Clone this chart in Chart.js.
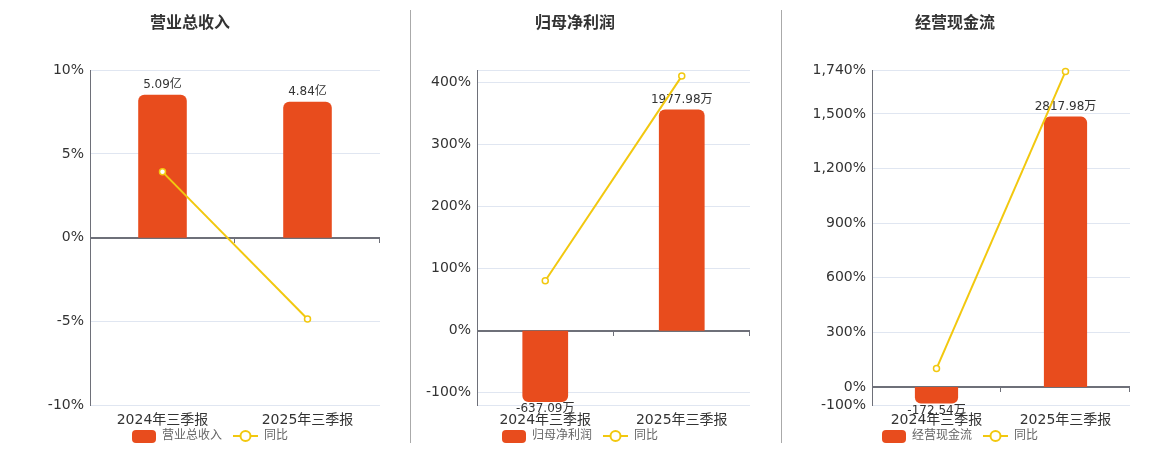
<!DOCTYPE html>
<html>
<head>
<meta charset="utf-8">
<script src="https://cdn.jsdelivr.net/npm/chart.js@4.4.0/dist/chart.umd.min.js"></script>
<style>
    html, body { margin: 0; padding: 0; background: #fff; overflow: hidden; }
    #stage { position: relative; width: 1160px; height: 450px; }
    #stage canvas { position: absolute; top: 0; }
    .divider { position: absolute; top: 10px; width: 1px; height: 433px; background: #aaa; }
</style>
</head>
<body>
<div id="stage">
    <canvas id="revenue_chart" style="left:0px"></canvas>
    <canvas id="profit_chart" style="left:400px"></canvas>
    <canvas id="cash_chart" style="left:780px"></canvas>
    <div class="divider" style="left:410px"></div>
    <div class="divider" style="left:781px"></div>
</div>
<script>
const periods = ['2024年三季报', '2025年三季报'];

// 营业总收入 (亿)
const revenueValues = [5.09, 4.84];
const revenueLabels = ['5.09亿', '4.84亿'];
const revenueYoY = [3.93, -4.85];
const revenueTicks = [-10, -5, 0, 5, 10];

// 归母净利润 (万)
const profitValues = [-637.09, 1977.98];
const profitLabels = ['-637.09万', '1977.98万'];
const profitYoY = [80.6, 410.5];
const profitTicks = [-100, 0, 100, 200, 300, 400];

// 经营现金流 (万)
const cashValues = [-172.54, 2817.98];
const cashLabels = ['-172.54万', '2817.98万'];
const cashYoY = [101, 1733];
const cashTicks = [-100, 0, 300, 600, 900, 1200, 1500, 1740];

const BAR_COLOR = '#e84c1d';
const LINE_COLOR = '#f2c80f';
const AXIS_COLOR = '#6e7079';
const GRID_COLOR = '#e0e6f1';
const FONT = '"DejaVu Sans", "Noto Sans CJK SC", sans-serif';

Chart.defaults.font.family = FONT;

function makeBarIcon() {
    const c = document.createElement('canvas');
    c.width = 24;
    c.height = 13;
    const g = c.getContext('2d');
    g.fillStyle = BAR_COLOR;
    g.beginPath();
    g.roundRect(0, 0, 24, 13, 4);
    g.fill();
    return c;
}

function makeLineIcon() {
    const c = document.createElement('canvas');
    c.width = 25;
    c.height = 14;
    const g = c.getContext('2d');
    g.strokeStyle = LINE_COLOR;
    g.lineWidth = 2;
    g.beginPath();
    g.moveTo(0, 7);
    g.lineTo(25, 7);
    g.stroke();
    g.beginPath();
    g.arc(12.5, 7, 5, 0, Math.PI * 2);
    g.fillStyle = '#fff';
    g.fill();
    g.stroke();
    return c;
}

const legendIcons = [makeBarIcon(), makeLineIcon()];

// value labels on the bars, drawn before the line so the line crosses them
const barLabelPlugin = {
    id: 'barLabels',
    afterDatasetDraw(chart, args, options) {
        if (args.index !== 0) return;
        const ctx = chart.ctx;
        const values = chart.data.datasets[0].data;
        ctx.save();
        ctx.font = '12px ' + FONT;
        ctx.fillStyle = '#333';
        ctx.textAlign = 'center';
        args.meta.data.forEach((bar, i) => {
            if (values[i] >= 0) {
                ctx.textBaseline = 'bottom';
                ctx.fillText(options.labels[i], bar.x, bar.y - 4);
            } else {
                ctx.textBaseline = 'top';
                ctx.fillText(options.labels[i], bar.x, bar.y + 1);
            }
        });
        ctx.restore();
    }
};

// little tick marks hanging under the zero line at category boundaries
const zeroTicksPlugin = {
    id: 'zeroTicks',
    beforeDatasetsDraw(chart) {
        const x = chart.scales.x;
        const zero = Math.round(chart.scales.y.getPixelForValue(0));
        const n = chart.data.labels.length;
        const step = (x.right - x.left) / n;
        const ctx = chart.ctx;
        ctx.save();
        ctx.strokeStyle = AXIS_COLOR;
        ctx.lineWidth = 1;
        for (let k = 1; k <= n; k++) {
            const px = Math.round(x.left + k * step) - 0.5;
            ctx.beginPath();
            ctx.moveTo(px, zero);
            ctx.lineTo(px, zero + 5);
            ctx.stroke();
        }
        ctx.restore();
    }
};

// legend row centred under the panel: icon, gap, label, then the next item
const legendRowPlugin = {
    id: 'legendRow',
    afterDraw(chart, args, options) {
        const ctx = chart.ctx;
        ctx.save();
        ctx.font = '12px ' + FONT;
        const items = chart.data.datasets.map((ds, i) => ({
            icon: legendIcons[i],
            text: ds.label,
            width: legendIcons[i].width + 6 + ctx.measureText(ds.label).width
        }));
        const total = items.reduce((sum, it) => sum + it.width, 0) + 11 * (items.length - 1);
        let x = Math.round(chart.width / 2 - total / 2);
        const y = options.y;
        ctx.fillStyle = '#666';
        ctx.textBaseline = 'middle';
        ctx.textAlign = 'left';
        items.forEach((it) => {
            ctx.drawImage(it.icon, x, Math.round(y - it.icon.height / 2));
            ctx.fillText(it.text, x + it.icon.width + 6, y);
            x += it.width + 11;
        });
        ctx.restore();
    }
};

const formatPercent = (v) => v.toLocaleString('en-US') + '%';

class ComboChart {
    constructor(canvasId, settings) {
        this.canvasId = canvasId;
        this.settings = settings;
    }

    render() {
        const s = this.settings;
        const canvas = document.getElementById(this.canvasId);
        canvas.width = s.width;
        canvas.height = 450;

        this.chart = new Chart(canvas.getContext('2d'), {
            type: 'bar',
            data: {
                labels: periods,
                datasets: [{
                    label: s.title,
                    data: s.values,
                    yAxisID: 'y1',
                    backgroundColor: BAR_COLOR,
                    borderRadius: 6,
                    barPercentage: 0.335,
                    categoryPercentage: 1,
                    order: 1
                }, {
                    type: 'line',
                    label: '同比',
                    data: s.yoy,
                    yAxisID: 'y',
                    borderColor: LINE_COLOR,
                    borderWidth: 2,
                    pointRadius: 3,
                    pointBorderWidth: 1.5,
                    pointBackgroundColor: '#fff',
                    pointBorderColor: LINE_COLOR,
                    clip: false,
                    order: 0
                }]
            },
            options: {
                responsive: false,
                animation: false,
                layout: { padding: { left: 0, right: s.rightPad, top: 0, bottom: 14 } },
                scales: {
                    x: {
                        grid: { display: false, drawTicks: false },
                        border: { display: false },
                        ticks: { color: '#333', font: { size: 14 }, padding: 7, maxRotation: 0 }
                    },
                    y: {
                        min: s.min,
                        max: s.max,
                        border: { display: true, color: AXIS_COLOR, width: 1 },
                        grid: {
                            drawTicks: false,
                            color: (c) => c.tick && c.tick.value === 0 ? AXIS_COLOR : GRID_COLOR,
                            lineWidth: (c) => c.tick && c.tick.value === 0 ? 2 : 1
                        },
                        ticks: {
                            color: '#333',
                            font: { size: 14 },
                            padding: 6,
                            callback: (v) => s.ticks.includes(v) ? formatPercent(v) : ''
                        },
                        afterBuildTicks: (scale) => {
                            const values = [s.min, ...s.ticks, s.max]
                                .filter((v, i, arr) => arr.indexOf(v) === i)
                                .sort((a, b) => a - b);
                            scale.ticks = values.map(v => ({ value: v }));
                        },
                        afterFit: (scale) => { scale.width = s.axisWidth; }
                    },
                    y1: {
                        display: false,
                        min: s.barMin,
                        max: s.barMax
                    }
                },
                plugins: {
                    tooltip: { enabled: false },
                    legend: { display: false },
                    title: {
                        display: true,
                        text: s.title,
                        color: '#333',
                        font: { size: 16, weight: 'bold' },
                        padding: { top: 14, bottom: 37 }
                    },
                    barLabels: { labels: s.labels },
                    legendRow: { y: 436 }
                }
            },
            plugins: [barLabelPlugin, zeroTicksPlugin, legendRowPlugin]
        });
    }
}

const onload = () => {
    const revenueChart = new ComboChart('revenue_chart', {
        title: '营业总收入',
        values: revenueValues,
        labels: revenueLabels,
        yoy: revenueYoY,
        ticks: revenueTicks,
        min: -10, max: 10,
        barMin: -5.96, barMax: 5.96,
        width: 420, axisWidth: 90, rightPad: 40
    });
    revenueChart.render();

    const profitChart = new ComboChart('profit_chart', {
        title: '归母净利润',
        values: profitValues,
        labels: profitLabels,
        yoy: profitYoY,
        ticks: profitTicks,
        min: -120, max: 420,
        barMin: -666, barMax: 2330,
        width: 360, axisWidth: 77, rightPad: 10
    });
    profitChart.render();

    const cashChart = new ComboChart('cash_chart', {
        title: '经营现金流',
        values: cashValues,
        labels: cashLabels,
        yoy: cashYoY,
        ticks: cashTicks,
        min: -100, max: 1740,
        barMin: -189.8, barMax: 3301.8,
        width: 360, axisWidth: 92, rightPad: 10
    });
    cashChart.render();
};

document.addEventListener('DOMContentLoaded', onload);
</script>
</body>
</html>
